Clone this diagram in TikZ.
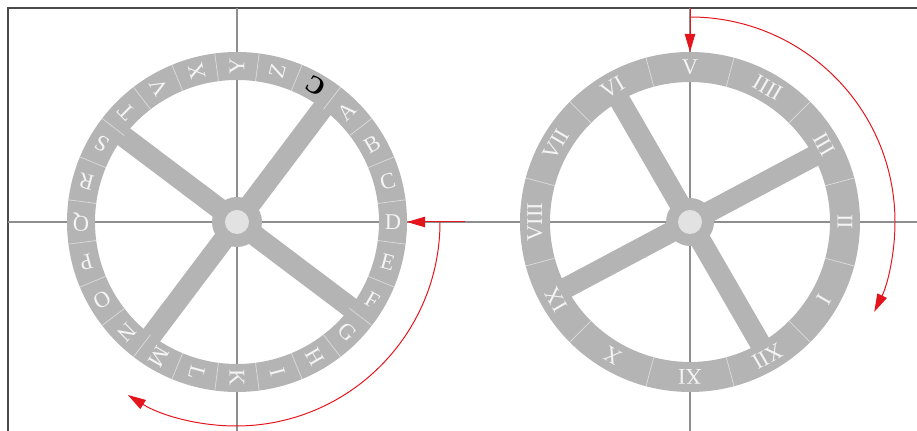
\documentclass[tikz,border=0pt]{standalone}
\usepackage{fontspec}
\setmainfont{Liberation Serif}
\usepackage{graphicx}
\usepackage{xcolor}
\usetikzlibrary{arrows.meta}
\definecolor{ringgray}{HTML}{B4B4B4}
\definecolor{glyphwhite}{HTML}{F4F4F4}
\definecolor{seamgray}{HTML}{DCDCDC}
\definecolor{axisgray}{HTML}{8E8E8E}
\definecolor{framegray}{HTML}{4A4A4A}
\definecolor{hubwhite}{HTML}{E2E2E2}
\definecolor{turnred}{HTML}{E3141B}
\tikzset{
  axisline/.style={draw=axisgray,line width=0.9pt},
  frameline/.style={draw=framegray,line width=1pt},
  spoke/.style={draw=ringgray,line width=5.2mm},
  seam/.style={draw=seamgray,line width=0.5pt},
  glyph/.style={text=glyphwhite,inner sep=0pt,
                font=\fontsize{16}{16}\selectfont},
  turnarr/.style={draw=turnred,line width=0.7pt,
                  -{Triangle[length=4.5mm,width=2.6mm]}}
}

\begin{document}
\begin{tikzpicture}[x=0.025cm,y=0.025cm]
  \useasboundingbox (0,0) rectangle (917,431);
  \coordinate (lc) at (237,209);
  \coordinate (rc) at (690,209);
  % frame and axes
  \draw[frameline] (8,0) -- (8,423) -- (917,423);
  \draw[axisline] (8,209) -- (917,209);
  \draw[axisline] (237,0) -- (237,423);
  \draw[axisline] (690,0) -- (690,423);
  % letter wheel
  \begin{scope}[shift={(lc)}]
    \fill[ringgray,even odd rule] (0,0) circle (170) circle (142);
    \foreach \a/\b in {53/233,143/323}
      \draw[spoke] (\a:143) -- (\b:143);
    \fill[ringgray] (0,0) circle (25);
    \fill[hubwhite] (0,0) circle (12);
    \foreach \t in {7.5,22.5,...,352.5}
      \draw[seam] (\t:142) -- (\t:170);
    \foreach \n/\a in {A/45,B/30,C/15,D/0,E/-15,F/-30,G/-45,H/-60,I/-75,
                       K/-90,L/-105,M/-120,N/-135,O/-150,P/-165,Q/-180,
                       R/-195,S/-210,T/-225,V/-240,X/-255,Y/-270,Z/-285}
      \node[glyph,rotate=\a] (lt\n) at (\a:156) {\n};
    \node[glyph,text=black,font=\fontsize{18}{18}\selectfont\bfseries,rotate=-30]
      (ltrev) at (60:157) {\scalebox{-1}[1]{C}};
  \end{scope}
  % hour wheel
  \begin{scope}[shift={(rc)}]
    \fill[ringgray,even odd rule] (0,0) circle (170) circle (140);
    \foreach \a/\b in {28/208,120/300}
      \draw[spoke] (\a:141) -- (\b:141);
    \fill[ringgray] (0,0) circle (24);
    \fill[hubwhite] (0,0) circle (12);
    \foreach \t in {15,45,...,345}
      \draw[seam] (\t:140) -- (\t:170);
    \foreach \n/\a in {V/90,IIII/60,III/30,II/0,I/-30,XII/-60,XI/-90,
                       X/-120,IX/-150,VIII/-180,VII/-210,VI/-240}
      \node[glyph,rotate=\a-90] (rt\n) at (\a:155) {\n};
  \end{scope}
  % turning marks
  \coordinate (dfeed) at (465,209);
  \coordinate (dmark) at (407,209);
  \coordinate (lturn) at (440,209);
  \draw[turnarr] (dfeed) -- (dmark);
  \draw[turnarr] (lturn) arc[start angle=0,end angle=-122,radius=204];
  \coordinate (vfeed) at (690,423);
  \coordinate (vmark) at (690,379);
  \coordinate (rturn) at (690,414);
  \draw[turnarr] (vfeed) -- (vmark);
  \draw[turnarr] (rturn) arc[start angle=90,end angle=-26,radius=205];
\end{tikzpicture}
\end{document}
